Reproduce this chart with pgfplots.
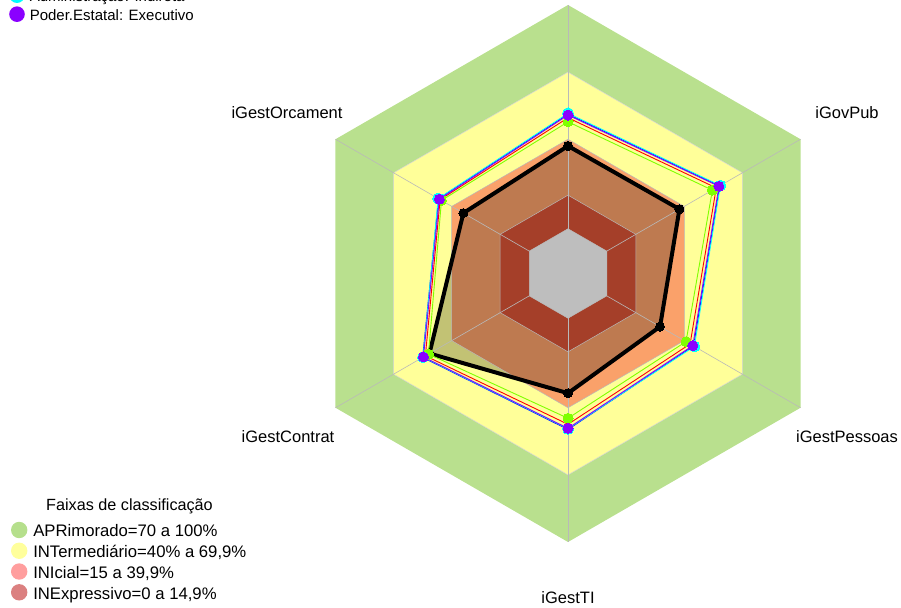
\documentclass[border=0pt]{standalone}
\usepackage{pgfplots}
\pgfplotsset{compat=1.18}
\usepackage{pgfplotstable}
\usepackage{fontspec}
\setmainfont{Liberation Sans}

\definecolor{bandA}{RGB}{185,224,142}
\definecolor{bandB}{RGB}{255,255,153}
\definecolor{bandC}{RGB}{250,161,106}
\definecolor{bandD}{RGB}{218,84,55}
\definecolor{centergray}{RGB}{190,190,190}
\definecolor{gridgray}{RGB}{185,185,185}
\definecolor{sGreen}{RGB}{127,255,0}
\definecolor{sRed}{RGB}{255,0,0}
\definecolor{sBlue}{RGB}{0,0,255}
\definecolor{sCyan}{RGB}{0,255,255}
\definecolor{sPurple}{RGB}{138,0,255}
\definecolor{legA}{RGB}{181,223,140}
\definecolor{legB}{RGB}{255,255,156}
\definecolor{legC}{RGB}{255,158,158}
\definecolor{legD}{RGB}{219,128,128}

\newcommand\lab{\fontsize{16.5}{19.8}\selectfont}

\pgfplotsset{table/radar/.style={
  x expr={(\thisrow{#1}+0.2)/1.2*cos(\thisrow{ang})},
  y expr={(\thisrow{#1}+0.2)/1.2*sin(\thisrow{ang})}}}

% band limits (fraction of 100%)
\pgfplotstableread{
ang apr int ini inx zer
90  1 0.7 0.4 0.15 0
150 1 0.7 0.4 0.15 0
210 1 0.7 0.4 0.15 0
270 1 0.7 0.4 0.15 0
330 1 0.7 0.4 0.15 0
30  1 0.7 0.4 0.15 0
90  1 0.7 0.4 0.15 0
}\tblBands

% series values (fraction of 100%)
\pgfplotstableread{
ang ent grn red blu cya pur
90  0.370 0.478 0.496 0.512 0.516 0.508
150 0.340 0.453 0.460 0.468 0.470 0.464
210 0.515 0.520 0.536 0.550 0.548 0.546
270 0.335 0.447 0.474 0.497 0.494 0.492
330 0.275 0.409 0.430 0.448 0.452 0.444
30  0.375 0.545 0.565 0.583 0.586 0.579
90  0.370 0.478 0.496 0.512 0.516 0.508
}\tblSeries

\begin{document}
\begin{tikzpicture}
\pgfplotsset{radarframe/.style={hide axis, x=268.5pt, y=268.5pt,
  xmin=-2.11546, xmax=1.24022, ymin=-1.24209, ymax=1.01862, clip=false}}
\begin{axis}[radarframe,
  legend style={at={(0.01021,1.01532)}, anchor=north west, draw=none, fill=none,
    inner sep=0pt, outer sep=0pt, row sep=5pt, column sep=5pt,
    font=\fontsize{15}{18}\selectfont, cells={anchor=base west},
    nodes={inner sep=0pt, text height=11pt, text depth=3pt}},
  legend image code/.code={\path[draw=none,fill=none] (0pt,0pt) rectangle (15.6pt,1pt);
    \fill[#1,overlay,draw=none] (7.8pt,6.5pt) circle (7.8pt);},
]
% bands
\addplot[draw=none, fill=bandA, forget plot] table[radar=apr] {\tblBands};
\addplot[draw=none, fill=bandB, forget plot] table[radar=int] {\tblBands};
\addplot[draw=none, fill=bandC, forget plot] table[radar=ini] {\tblBands};
\addplot[draw=none, fill=bandD, forget plot] table[radar=inx] {\tblBands};
% entity polygon fill
\addplot[draw=none, fill=black, fill opacity=0.24, forget plot] table[radar=ent] {\tblSeries};
% center (below zero)
\addplot[draw=none, fill=centergray, forget plot] table[radar=zer] {\tblBands};
% band outlines
\addplot[gridgray, line width=0.5pt, forget plot] table[radar=zer] {\tblBands};
\addplot[gridgray, line width=0.5pt, forget plot] table[radar=inx] {\tblBands};
\addplot[gridgray, line width=0.5pt, forget plot] table[radar=ini] {\tblBands};
\addplot[gridgray!60, line width=0.5pt, forget plot] table[radar=int] {\tblBands};
% spokes
\pgfplotsinvokeforeach{90,30,-30,-90,-150,150}{
  \draw[gridgray, line width=0.6pt] (axis cs:{cos(#1)/6},{sin(#1)/6}) -- (axis cs:{cos(#1)},{sin(#1)});
}
% series
\addplot[black, line width=4pt, mark=*, mark size=4.5pt, mark options={line width=0pt}, forget plot] table[radar=ent] {\tblSeries};
\addplot[sGreen, line width=0.9pt, mark=*, mark size=5pt, mark options={line width=0pt}, forget plot] table[radar=grn] {\tblSeries};
\addplot[sRed, line width=0.9pt, forget plot] table[radar=red] {\tblSeries};
\addplot[sBlue, line width=0.9pt, forget plot] table[radar=blu] {\tblSeries};
\addplot[sCyan, line width=0.9pt, mark=*, mark size=5.5pt, mark options={line width=0pt}, forget plot] table[radar=cya] {\tblSeries};
\addplot[sPurple, line width=0.9pt, mark=*, mark size=5pt, mark options={line width=0pt}, forget plot] table[radar=pur] {\tblSeries};
\addlegendimage{sCyan}
\addlegendentry{Administração: Indireta}
\addlegendimage{sPurple}
\addlegendentry{Poder.Estatal: Executivo}
\end{axis}

\begin{axis}[radarframe,
  legend style={at={(0.012209,0.135585)}, anchor=north west, draw=none, fill=none,
    inner sep=0pt, outer sep=0pt, row sep=5.27pt, column sep=5.9pt,
    font=\fontsize{16.7}{20}\selectfont, cells={anchor=base west},
    nodes={inner sep=0pt, text height=12pt, text depth=3.5pt}},
  legend image code/.code={\path[draw=none,fill=none] (0pt,0pt) rectangle (16.4pt,1pt);
    \fill[#1,overlay,draw=none] (8.2pt,6.7pt) circle (8.2pt);},
]
\addlegendimage{legA}
\addlegendentry{APRimorado=70 a 100\%}
\addlegendimage{legB}
\addlegendentry{INTermediário=40\% a 69,9\%}
\addlegendimage{legC}
\addlegendentry{INIcial=15 a 39,9\%}
\addlegendimage{legD}
\addlegendentry{INExpressivo=0 a 14,9\%}
\end{axis}

\node[anchor=base, font=\fontsize{16.2}{19.4}\selectfont] at ([shift={(129.5pt,-511pt)}]current axis.north west) {Faixas de classificação};
\node[anchor=base, font=\lab] at ([shift={(287pt,-119pt)}]current axis.north west) {iGestOrcament};
\node[anchor=base, font=\lab] at ([shift={(847pt,-119pt)}]current axis.north west) {iGovPub};
\node[anchor=base, font=\lab] at ([shift={(847pt,-443pt)}]current axis.north west) {iGestPessoas};
\node[anchor=base, font=\lab] at ([shift={(288pt,-443pt)}]current axis.north west) {iGestContrat};
\node[anchor=base, font=\lab] at ([shift={(568pt,-603pt)}]current axis.north west) {iGestTI};

\pgfresetboundingbox
\useasboundingbox (current axis.south west) rectangle (current axis.north east);
\end{tikzpicture}
\end{document}
